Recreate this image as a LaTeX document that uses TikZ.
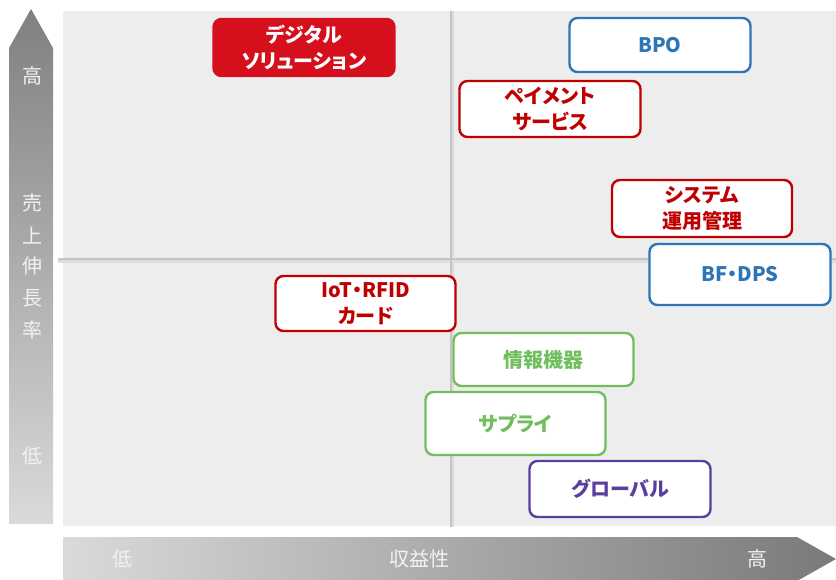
\documentclass[tikz,border=0pt]{standalone}
\usepackage{fontspec}
\setmainfont{Noto Sans CJK JP}[RawFeature=+palt]
\definecolor{panel}{HTML}{EDEDED}
\definecolor{cross}{HTML}{C4C4C4}
\definecolor{crossshadow}{HTML}{DDDDDD}
\definecolor{rd}{HTML}{C00000}
\definecolor{rdfill}{HTML}{D50F1B}
\definecolor{bl}{HTML}{2E75B6}
\definecolor{gr}{HTML}{70BF5C}
\definecolor{pu}{HTML}{5B3F9E}
\definecolor{axdark}{HTML}{808080}
\definecolor{axlight}{HTML}{DADADA}
\definecolor{axtext}{HTML}{F2F2F2}
\begin{document}
\begin{tikzpicture}[x=1pt,y=-1pt,
  cbox/.style={draw=#1, text=#1, fill=white, rounded corners=8pt, line width=2.4pt,
    inner sep=0pt, align=center, font=\bfseries\fontsize{20}{26}\selectfont},
  axlab/.style={text=axtext, inner sep=0pt, font=\fontsize{20}{20}\selectfont}]
\useasboundingbox (0,0) rectangle (836,579);
\fill[white] (0,0) rectangle (836,579);
% panel
\fill[panel] (63,11) rectangle (836,526);
% vertical axis arrow
\shade[top color=axdark, bottom color=axlight] (9,48) -- (31,9) -- (53,48) -- (53,524) -- (9,524) -- cycle;
% horizontal axis arrow
\begin{scope}
\clip (0,0) rectangle (836,579);
\shade[left color=axlight, right color=axdark!95!black] (63,537) -- (797,537) -- (836,559) -- (797,581) -- (63,581) -- cycle;
\end{scope}
% cross lines
\coordinate (vt) at (451,11);
\coordinate (vb) at (451,527);
\coordinate (hl) at (58,259);
\coordinate (hr) at (836,259);
\draw[crossshadow, line width=3pt] ([xshift=1.5pt]vt) -- ([xshift=1.5pt]vb);
\draw[crossshadow, line width=3pt] ([yshift=-2pt]hl) -- ([yshift=-2pt]hr);
\draw[cross, line width=2.4pt] (vt) -- (vb);
\draw[cross, line width=2.4pt] (hl) -- (hr);
% axis labels
\node[axlab] (yhi) at (33,76) {高};
\node[axlab] (y1) at (33,203) {売};
\node[axlab] (y2) at (33,236) {上};
\node[axlab] (y3) at (33,266) {伸};
\node[axlab] (y4) at (33,298) {長};
\node[axlab] (y5) at (33,330) {率};
\node[axlab] (ylo) at (33,456) {低};
\node[axlab] (xlo) at (122,559) {低};
\node[axlab] (xmid) at (419,559) {収益性};
\node[axlab] (xhi) at (757,559) {高};
% boxes
\node[cbox=rdfill, fill=rdfill, text=white, minimum width=181pt, minimum height=57pt] (dig) at (304,47.5) {デジタル\\ソリューション};
\node[cbox=bl, minimum width=181pt, minimum height=54pt] (bpo) at (660,45) {BPO};
\node[cbox=rd, minimum width=181pt, minimum height=56pt] (pay) at (550,109) {ペイメント\\サービス};
\node[cbox=rd, minimum width=180pt, minimum height=57pt] (sys) at (702,208.5) {システム\\運用管理};
\node[cbox=bl, minimum width=181pt, minimum height=61pt] (bf) at (740,274.5) {BF・DPS};
\node[cbox=rd, minimum width=180pt, minimum height=55pt] (iot) at (365.5,303.5) {IoT・RFID\\カード};
\node[cbox=gr, minimum width=180pt, minimum height=53pt] (info) at (543.5,359.5) {情報機器};
\node[cbox=gr, minimum width=180pt, minimum height=63pt] (sup) at (515.5,423.5) {サプライ};
\node[cbox=pu, minimum width=181pt, minimum height=56pt] (glo) at (620,489) {グローバル};
\end{tikzpicture}
\end{document}
